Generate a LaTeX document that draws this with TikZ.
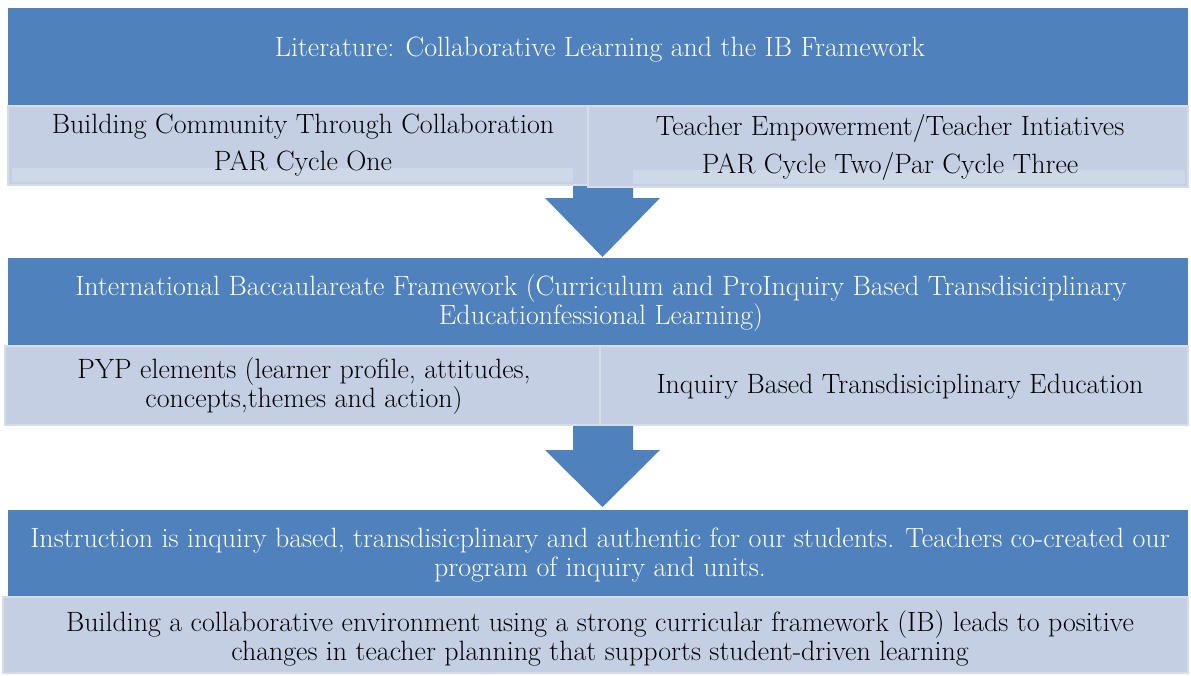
\documentclass[tikz,border=0pt]{standalone}
\usepackage{fontspec}
\usepackage{xcolor}
\definecolor{ibblue}{HTML}{4F81BD}
\definecolor{ibpale}{HTML}{C4CFE3}
\definecolor{ibedge}{HTML}{D5DDEB}
\definecolor{ibstrip}{HTML}{CFD8E9}

\begin{document}
\begin{tikzpicture}[
  headbox/.style={fill=ibblue},
  subbox/.style={fill=ibpale, draw=ibedge, line width=1.5pt},
  substrip/.style={fill=ibstrip},
  headtext/.style={text=white, font=\fontsize{15.9}{16.5}\selectfont, align=center},
  subtext/.style={text=black, font=\fontsize{15.9}{16.5}\selectfont, align=center},
  blockarrow/.style={fill=ibblue}
]
\useasboundingbox (0,0) rectangle (23.82,13.5);

% Literature (top)
\fill[headbox] (0.16,13.34) rectangle (23.76,11.3);
\node[headtext] (lit) at (12.0,12.5) {Literature: Collaborative Learning and the IB Framework};

% Arrow down to the IB framework
\fill[blockarrow] (11.46,9.95) -- (12.66,9.95) -- (12.66,9.54) -- (13.2,9.54)
  -- (12.05,8.36) -- (10.9,9.54) -- (11.46,9.54) -- cycle;

% Community (left) and empowerment (right)
\draw[subbox] (0.16,11.38) rectangle (11.94,9.8);
\fill[substrip] (0.24,10.14) rectangle (11.46,9.86);
\node[subtext] (community) at (6.06,10.6) {Building Community Through Collaboration\\[5pt]PAR Cycle One};
\draw[subbox] (11.76,11.38) rectangle (23.76,9.76);
\fill[substrip] (12.66,10.1) rectangle (23.7,9.82);
\node[subtext] (empower) at (17.8,10.55) {Teacher Empowerment/Teacher Intiatives\\[5pt]PAR Cycle Two/Par Cycle Three};

% IB framework (middle)
\fill[headbox] (0.16,8.34) rectangle (23.76,6.5);
\node[headtext] (ibframe) at (12.02,7.43) {International Baccaulareate Framework (Curriculum and ProInquiry Based Transdisiciplinary\\Educationfessional Learning)};

% Arrow down to instruction
\fill[blockarrow] (11.46,5.1) -- (12.66,5.1) -- (12.66,4.5) -- (13.2,4.5)
  -- (12.05,3.36) -- (10.9,4.5) -- (11.46,4.5) -- cycle;

% PYP (left) and inquiry (right)
\draw[subbox] (0.1,6.58) rectangle (12.06,5.0);
\node[subtext] (pyp) at (6.08,5.78) {PYP elements (learner profile, attitudes,\\concepts,themes and action)};
\draw[subbox] (12.0,6.58) rectangle (23.76,5.0);
\node[subtext] (inquiry) at (18.0,5.76) {Inquiry Based Transdisiciplinary Education};

% Instruction (bottom)
\fill[headbox] (0.16,3.3) rectangle (23.76,1.5);
\node[headtext] (instr) at (12.0,2.39) {Instruction is inquiry based, transdisicplinary and authentic for our students. Teachers co-created our\\program of inquiry and units.};
\draw[subbox] (0.06,1.56) rectangle (23.76,0.04);
\node[subtext] (outcome) at (12.0,0.74) {Building a collaborative environment using a strong curricular framework (IB) leads to positive\\changes in teacher planning that supports student-driven learning};

\end{tikzpicture}
\end{document}
